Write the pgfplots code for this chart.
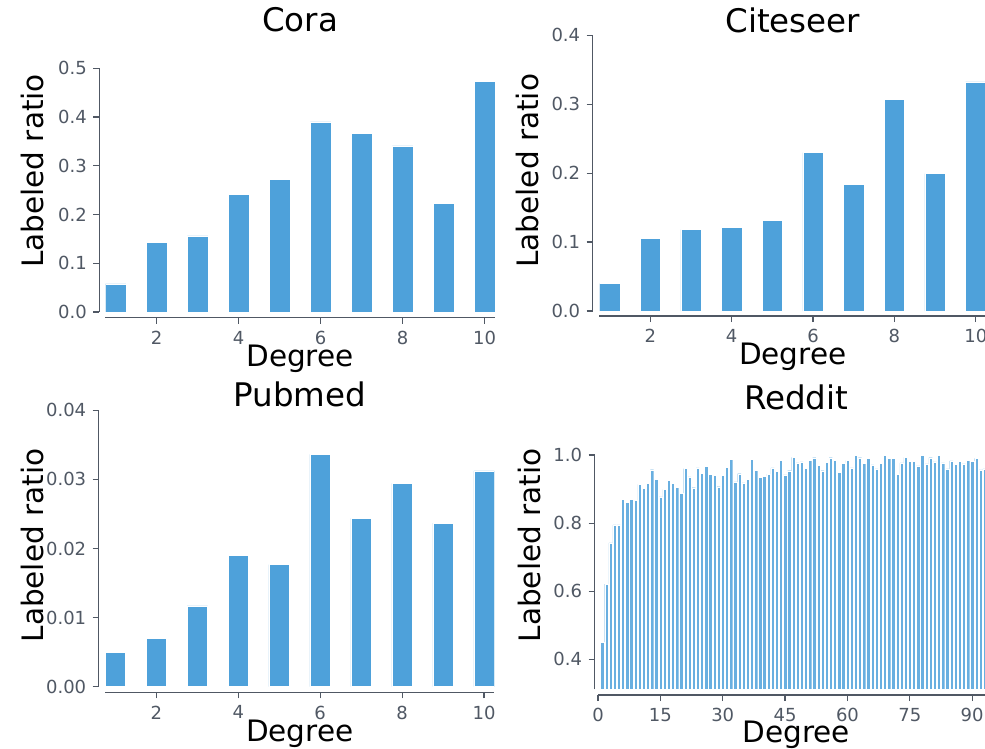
\documentclass[border=0pt]{standalone}
\usepackage{pgfplots}
\pgfplotsset{compat=1.18}
\usepackage{fontspec}
\setmainfont{DejaVu Sans}
\definecolor{barblue}{RGB}{78,161,218}
\definecolor{axgray}{RGB}{80,88,100}
\pgfplotsset{
  myaxis/.style={
    scale only axis,
    anchor=south west,
    ybar,
    enlargelimits=false,
    scaled ticks=false,
    axis x line*=bottom,
    axis y line*=left,
    axis line style={axgray, line width=1.2pt},
    tick align=outside,
    major tick length=6pt,
    tick style={axgray, line width=1.2pt},
    every tick label/.append style={font=\fontsize{18}{20}\selectfont, text=axgray},
    xticklabel style={yshift=-4pt},
    yticklabel style={xshift=-3pt},
    /pgf/number format/assume math mode=true,
    label style={font=\fontsize{29.5}{32}\selectfont},
    title style={font=\fontsize{32.5}{36}\selectfont, at={(0.5,1)}, anchor=base},
    xlabel=Degree,
    ylabel={Labeled ratio},
    xlabel style={at={(axis description cs:0.5,0)}, anchor=base},
  }
}
\begin{document}
\begin{tikzpicture}
% Cora
\begin{axis}[myaxis, at={(105.3pt,436pt)}, width=389.5pt, height=243.7pt,
  xmin=0.75, xmax=10.25, ymin=0, ymax=0.5,
  xtick={2,4,6,8,10}, xticklabels={2,4,6,8,10},
  ytick={0,0.1,0.2,0.3,0.4,0.5}, yticklabels={0.0,0.1,0.2,0.3,0.4,0.5},
  bar width=0.5,
  title=Cora, title style={yshift=30.3pt},
  ylabel style={at={(axis description cs:-0.159,0.579)}, anchor=base},
  xlabel style={yshift=-54pt},
  axis x line shift=5.7pt, axis y line shift=6pt]
\addplot[fill=barblue, draw=white, line width=0.5pt] coordinates {(1,0.0575) (2,0.143) (3,0.156) (4,0.242) (5,0.2715) (6,0.390) (7,0.3666) (8,0.3406) (9,0.2223) (10,0.4733)};
\end{axis}
% Citeseer
\begin{axis}[myaxis, at={(599.4pt,437pt)}, width=386.6pt, height=275.7pt,
  xmin=0.75, xmax=10.25, ymin=0, ymax=0.4,
  xtick={2,4,6,8,10}, xticklabels={2,4,6,8,10},
  ytick={0,0.1,0.2,0.3,0.4}, yticklabels={0.0,0.1,0.2,0.3,0.4},
  bar width=0.5,
  title=Citeseer, title style={yshift=-2.7pt},
  ylabel style={at={(axis description cs:-0.158,0.5086)}, anchor=base},
  xlabel style={yshift=-53.3pt},
  axis x line shift=5pt, axis y line shift=6.7pt]
\addplot[fill=barblue, draw=white, line width=0.5pt] coordinates {(1,0.0397) (2,0.105) (3,0.118) (4,0.1214) (5,0.132) (6,0.2297) (7,0.1833) (8,0.3066) (9,0.1993) (10,0.3323)};
\end{axis}
% Pubmed
\begin{axis}[myaxis, at={(105.1pt,61.3pt)}, width=389.2pt, height=276.4pt,
  xmin=0.75, xmax=10.25, ymin=0, ymax=0.04,
  xtick={2,4,6,8,10}, xticklabels={2,4,6,8,10},
  ytick={0,0.01,0.02,0.03,0.04}, yticklabels={0.00,0.01,0.02,0.03,0.04},
  bar width=0.5,
  title=Pubmed, title style={yshift=-2.4pt},
  ylabel style={at={(axis description cs:-0.1588,0.511)}, anchor=base},
  xlabel style={yshift=-54.3pt},
  axis x line shift=5.6pt, axis y line shift=6.4pt]
\addplot[fill=barblue, draw=white, line width=0.5pt] coordinates {(1,0.00492) (2,0.0070) (3,0.01168) (4,0.01906) (5,0.01766) (6,0.03363) (7,0.02437) (8,0.02943) (9,0.02369) (10,0.03122)};
\end{axis}
% Reddit
\begin{axis}[myaxis, at={(598pt,58.7pt)}, width=396.2pt, height=234.3pt,
  xmin=0, xmax=95.3, ymin=0.312, ymax=1.0,
  xtick={0,15,30,45,60,75,90}, xticklabels={0,15,30,45,60,75,90},
  ytick={0.4,0.6,0.8,1.0}, yticklabels={0.4,0.6,0.8,1.0},
  bar width=0.8,
  title=Reddit, title style={yshift=40pt},
  ylabel style={at={(axis description cs:-0.146,0.614)}, anchor=base},
  xlabel style={yshift=-53.4pt},
  axis x line shift=5.7pt, axis y line shift=3.5pt]
\addplot[fill=barblue!85!white, draw=white, line width=0.3pt] coordinates {
(1,0.449) (2,0.621) (3,0.742) (4,0.795) (5,0.795) (6,0.869) (7,0.862) (8,0.870) (9,0.866) (10,0.914)
(11,0.902) (12,0.917) (13,0.957) (14,0.929) (15,0.877) (16,0.899) (17,0.926) (18,0.917) (19,0.905) (20,0.887)
(21,0.960) (22,0.936) (23,0.904) (24,0.962) (25,0.947) (26,0.967) (27,0.943) (28,0.940) (29,0.907) (30,0.940)
(31,0.964) (32,0.987) (33,0.921) (34,0.945) (35,0.918) (36,0.929) (37,0.987) (38,0.955) (39,0.935) (40,0.937)
(41,0.944) (42,0.962) (43,0.952) (44,0.985) (45,0.942) (46,0.954) (47,0.993) (48,0.977) (49,0.980) (50,0.961)
(51,0.985) (52,0.992) (53,0.969) (54,0.954) (55,0.978) (56,0.992) (57,0.985) (58,0.949) (59,0.976) (60,0.984)
(61,0.962) (62,1.000) (63,0.992) (64,0.975) (65,0.991) (66,0.971) (67,0.959) (68,0.976) (69,1.000) (70,0.991)
(71,0.990) (72,0.944) (73,0.977) (74,0.993) (75,0.982) (76,0.982) (77,0.968) (78,1.000) (79,0.974) (80,0.992)
(81,0.980) (82,1.000) (83,0.977) (84,0.959) (85,0.983) (86,0.973) (87,0.982) (88,0.974) (89,0.984) (90,0.981)
(91,0.990) (92,0.956) (93,0.959)};
\end{axis}
\pgfresetboundingbox
\path[use as bounding box] (0pt,0pt) rectangle (985pt,748pt);
\end{tikzpicture}
\end{document}
